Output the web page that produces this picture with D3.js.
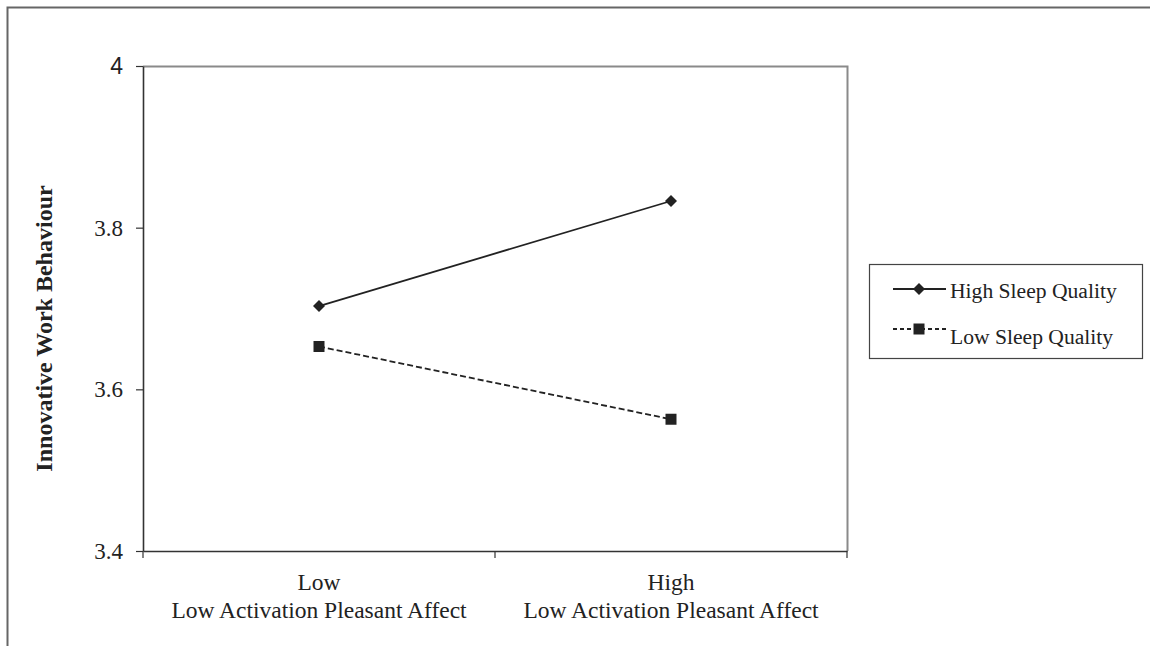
<!DOCTYPE html>
<html><head><meta charset="utf-8">
<script src="https://cdn.jsdelivr.net/npm/d3@7"></script>
<style>
html,body{margin:0;padding:0;background:#fff;}
svg{display:block;}
.serif{font-family:"Liberation Serif";}
.sans{font-family:"Liberation Sans";}
</style></head>
<body>
<svg id="chart" width="1150" height="646"></svg>
<script>
const categories = ["Low", "High"];
const categorySubLabel = "Low Activation Pleasant Affect";
const highSleepValues = [3.703, 3.833];
const lowSleepValues = [3.653, 3.563];
const seriesNames = ["High Sleep Quality", "Low Sleep Quality"];
const yTicks = [3.4, 3.6, 3.8, 4];
const yTickLabels = ["3.4", "3.6", "3.8", "4"];
const yTitle = "Innovative Work Behaviour";

const series = [
  {name: seriesNames[0], values: highSleepValues, dash: null, marker: "diamond"},
  {name: seriesNames[1], values: lowSleepValues, dash: "6,3", marker: "square"}
];

const svg = d3.select("#chart");
const serif = "Liberation Serif";
const ink = "#222";

// outer frame
svg.append("path").attr("d", "M7.5,646 V7.5 H1150").attr("fill","none").attr("stroke","#666").attr("stroke-width",2);

const pLeft = 143, pRight = 847, pTop = 66, pBottom = 551;
const x = d3.scaleBand().domain(categories).range([pLeft, pRight]);
const y = d3.scaleLinear().domain([3.4, 4]).range([pBottom, pTop]);

// plot border (top & right gray)
svg.append("path").attr("d", `M${pLeft},${pTop+0.5} H${pRight+0.5} V${pBottom}`)
  .attr("fill","none").attr("stroke","#8a8a8a").attr("stroke-width",2);

// y axis
const yAxis = svg.append("g").attr("transform", `translate(${pLeft},0)`)
  .call(d3.axisLeft(y).tickValues(yTicks).tickSize(7).tickSizeOuter(0)
    .tickFormat((d,i) => yTickLabels[i]));
yAxis.attr("font-family", null).attr("font-size", null);
yAxis.select(".domain").attr("stroke","#333").attr("stroke-width",1.6);
yAxis.selectAll(".tick line").attr("stroke","#333").attr("stroke-width",1.2);
yAxis.selectAll(".tick text")
  .attr("class", d => d === 4 ? "sans" : "serif")
  .style("font-size", "23px").attr("fill", ink).attr("x", -20).attr("dy","0.33em");

// x axis
const xAxis = svg.append("g").attr("transform", `translate(0,${pBottom})`)
  .call(d3.axisBottom(x).tickValues([]).tickSizeOuter(0));
xAxis.select(".domain").attr("stroke","#333").attr("stroke-width",1.6);
const boundaries = [pLeft, (pLeft+pRight)/2, pRight];
svg.append("g").selectAll("line").data(boundaries).join("line")
  .attr("x1", d=>d).attr("x2", d=>d).attr("y1", pBottom).attr("y2", pBottom+7)
  .attr("stroke","#333").attr("stroke-width",1.2);

const xl = svg.append("g");
categories.forEach(c => {
  const cx = x(c) + x.bandwidth()/2;
  xl.append("text").attr("x", cx).attr("y", 590).attr("text-anchor","middle")
    .attr("class","serif").style("font-size", "23.5px").attr("fill", ink).text(c);
  xl.append("text").attr("x", cx).attr("y", 618).attr("text-anchor","middle")
    .attr("class","serif").style("font-size", "23.5px").attr("fill", ink).text(categorySubLabel);
});

// y title
svg.append("text").attr("transform", `translate(52,328.5) rotate(-90)`)
  .attr("text-anchor","middle").attr("class","serif").style("font-weight","bold")
  .style("font-size", "24px").attr("fill", ink).text(yTitle);

// lines
const line = d3.line().x((d,i) => x(categories[i]) + x.bandwidth()/2).y(d => y(d));
function drawMarker(g, type, cx, cy) {
  if (type === "diamond") {
    g.append("path").attr("d", "M0,-6 L6,0 L0,6 L-6,0 Z").attr("transform", `translate(${cx},${cy})`).attr("fill", ink);
  } else {
    g.append("rect").attr("x", cx-5.5).attr("y", cy-5.5).attr("width", 11).attr("height", 11).attr("fill", ink);
  }
}
series.forEach(s => {
  const g = svg.append("g");
  g.append("path").attr("d", line(s.values)).attr("fill","none").attr("stroke", ink)
    .attr("stroke-width", 1.8).attr("stroke-dasharray", s.dash);
  s.values.forEach((v,i) => drawMarker(g, s.marker, x(categories[i]) + x.bandwidth()/2, y(v)));
});

// legend
const lg = svg.append("g");
lg.append("rect").attr("x", 869.5).attr("y", 264.5).attr("width", 273).attr("height", 94)
  .attr("fill","#fff").attr("stroke","#444").attr("stroke-width",1.2);
const legendRowY = [289, 329];
const legendTextY = [297.5, 344];
series.forEach((s,i) => {
  const ly = legendRowY[i];
  lg.append("line").attr("x1", 893).attr("x2", 946).attr("y1", ly).attr("y2", ly)
    .attr("stroke", ink).attr("stroke-width", 1.8).attr("stroke-dasharray", s.dash ? "4,3" : null);
  drawMarker(lg, s.marker, 919, ly);
  lg.append("text").attr("x", 950).attr("y", legendTextY[i])
    .attr("class","serif").style("font-size", "21.6px").attr("fill", ink).text(s.name);
});
</script>
</body></html>
